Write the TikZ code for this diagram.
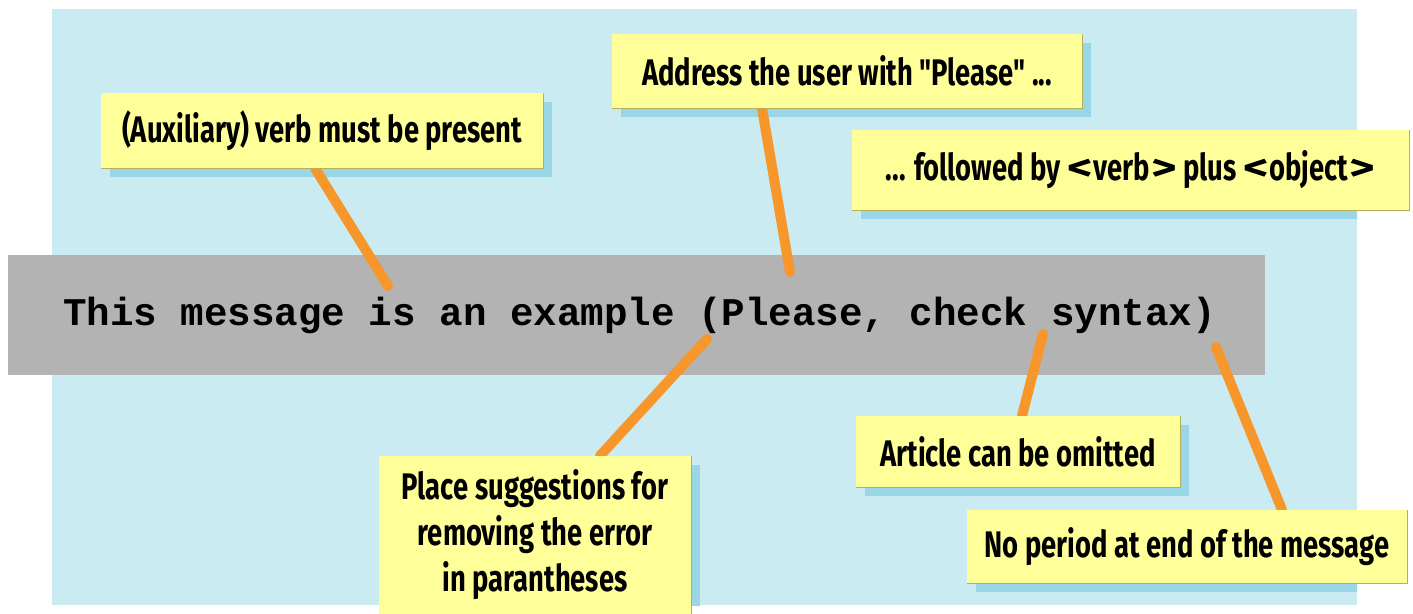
\documentclass[tikz,border=0pt]{standalone}
\usepackage{fontspec}
\usepackage{graphicx}
\newfontfamily\notefont[FakeStretch=0.74]{Fira Sans}
\newfontfamily\codefont{Liberation Mono}
\definecolor{panel}{HTML}{CBEBF2}
\definecolor{noteshadow}{HTML}{9AD7E6}
\definecolor{note}{HTML}{FFFF99}
\definecolor{noteedge}{HTML}{B8AE5A}
\definecolor{barfill}{HTML}{B3B3B3}
\definecolor{lead}{HTML}{F7962A}
% wide angle brackets
\newcommand\opentag{\scalebox{1.8}[1]{<}\kern1pt}
\newcommand\closetag{\kern1pt\scalebox{1.8}[1]{>}}
\pgfdeclarelayer{under}
\pgfdeclarelayer{front}
\pgfsetlayers{under,main,front}
\begin{document}
\begin{tikzpicture}[x=1pt,y=-1pt,
  notebox/.style={fill=note, inner sep=0pt, align=center,
    font=\notefont\bfseries\fontsize{37}{46}\selectfont},
  msgbar/.style={fill=barfill, inner sep=0pt,
    font=\codefont\bfseries\fontsize{39.2}{41}\selectfont},
  leader/.style={draw=lead, line width=10pt, line cap=round},
  edgeline/.style={draw=noteedge, line width=1.2pt}]
\useasboundingbox (0,0) rectangle (1413,613);

% yellow notes
\begin{pgfonlayer}{front}
  \node[notebox, minimum width=442pt, minimum height=75pt] (aux) at (322,130.5)
    {(Auxiliary) verb must be present};
  \node[notebox, minimum width=470pt, minimum height=74pt] (addr) at (847,71)
    {Address the user with "Please" ...};
  \node[notebox, minimum width=557pt, minimum height=80pt] (foll) at (1130.5,170)
    {... followed by \opentag verb\closetag{} plus \opentag object\closetag};
  \node[notebox, minimum width=312pt, minimum height=158pt] (place) at (535,535)
    {Place suggestions for\\removing the error\\in parantheses};
  \node[notebox, minimum width=324pt, minimum height=71pt] (art) at (1018,451.5)
    {Article can be omitted};
  \node[notebox, minimum width=440pt, minimum height=73pt] (nop) at (1187,546.5)
    {No period at end of the message};
  \foreach \n in {aux,addr,foll,place,art,nop}
    \draw[edgeline] (\n.south west) -- (\n.south east) -- (\n.north east);
\end{pgfonlayer}

% grey message bar
\node[msgbar, minimum width=1257pt, minimum height=120pt] (msg) at (636.5,315)
  {\kern6pt This message is an example (Please, check syntax)};

% leader lines from the notes into the message
\coordinate (e1) at (388,286);
\coordinate (e2) at (790,272);
\coordinate (e3) at (707,339);
\coordinate (e4) at (1043,334);
\coordinate (e5) at (1216,347);
\draw[leader] ([xshift=-7pt]aux.south) -- (e1);
\draw[leader] ([xshift=-85pt]addr.south) -- (e2);
\draw[leader] ([xshift=65pt]place.north) -- (e3);
\draw[leader] ([xshift=4pt]art.north) -- (e4);
\draw[leader] ([xshift=95pt]nop.north) -- (e5);

% panel and note shadows
\begin{pgfonlayer}{under}
  \fill[panel] (52,9) rectangle (1357,605);
  \begin{scope}
    \clip (52,9) rectangle (1357,605);
    \foreach \n in {aux,addr,foll,place,art,nop}
      \fill[noteshadow] ([shift={(9pt,-9pt)}]\n.south west) rectangle ([shift={(9pt,-9pt)}]\n.north east);
  \end{scope}
\end{pgfonlayer}
\end{tikzpicture}
\end{document}
